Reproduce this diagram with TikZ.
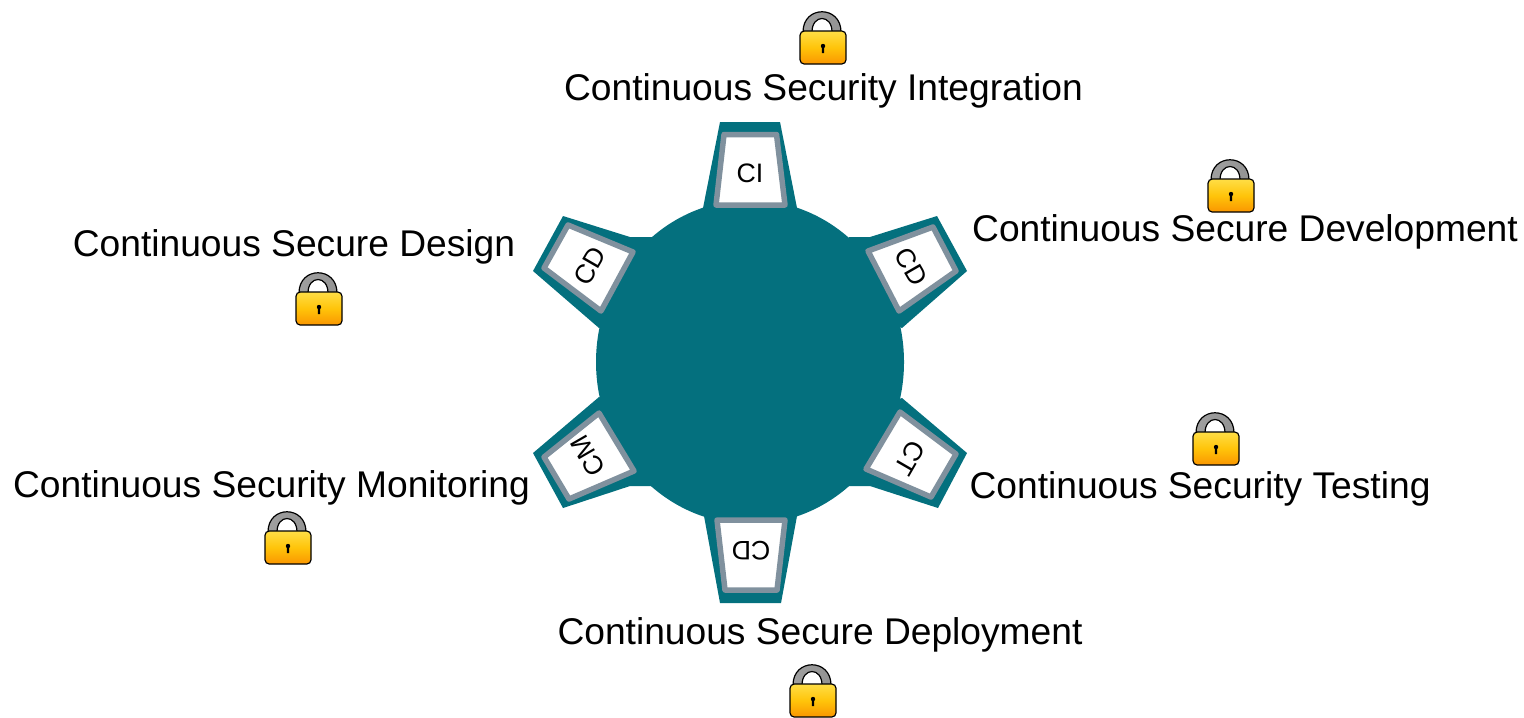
\documentclass[tikz,border=0pt]{standalone}
\usepackage{fontspec}
\setmainfont{Liberation Sans}

\definecolor{gearteal}{RGB}{4,112,126}
\definecolor{facegray}{RGB}{128,145,158}
\definecolor{locktop}{RGB}{255,222,70}
\definecolor{lockmid}{RGB}{255,196,10}
\definecolor{lockbot}{RGB}{250,150,0}

\tikzset{
  stagelabel/.style={anchor=base, inner sep=0pt, font=\fontsize{10.58}{12}\selectfont},
  toothlabel/.style={inner sep=0pt, font=\fontsize{7.6}{9}\selectfont},
  toothface/.style={draw=facegray, fill=white, line width=0.55mm, line join=round},
  padlock/.pic={
    \path[draw=black, line width=0.12mm, even odd rule, left color=gray!75, middle color=gray!20, right color=gray!85]
      (3,32) -- (3,24) .. controls (3,-3) and (41,-3) .. (41,24) -- (41,32) --
      (32,32) -- (32,24) .. controls (32,6) and (12,6) .. (12,24) -- (12,32) -- cycle;
    \path[draw=black, line width=0.12mm, rounded corners=1.2, top color=locktop, bottom color=lockbot, middle color=lockmid]
      (0,23) rectangle (46,56);
    \fill[black] (23,38) circle (2.2);
    \fill[black] (22,38) -- (24,38) -- (24.2,45) -- (21.8,45) -- cycle;
  }
}

\begin{document}
\begin{tikzpicture}[x=0.1mm,y=-0.1mm]

\useasboundingbox (0,0) rectangle (1524,717);

\fill[gearteal] (750,362) ellipse (154 and 162);

% the six teeth
\fill[gearteal] (720,122) -- (780,122) -- (797,208) -- (750,240) -- (703,208) -- cycle;
\fill[gearteal] (937,216) -- (967,271) -- (902,328) -- (840,300) -- (849,237) -- (870,237) -- cycle;
\fill[gearteal] (967,453) -- (938,508) -- (870,486) -- (849,486) -- (840,420) -- (902,398) -- cycle;
\fill[gearteal] (720,603) -- (781,603) -- (797,516) -- (750,480) -- (704,516) -- cycle;
\fill[gearteal] (533,453) -- (563,508) -- (630,486) -- (652,486) -- (660,420) -- (599,397) -- cycle;
\fill[gearteal] (563,216) -- (533,271) -- (599,328) -- (660,300) -- (652,237) -- (630,237) -- cycle;

\draw[toothface] (724,134.5) -- (776.5,134.5) -- (785,205) -- (716,205) -- cycle;
\draw[toothface] (933,227) -- (956,271) -- (899,311) -- (868,251) -- cycle;
\draw[toothface] (900,412) -- (956,454) -- (931,497) -- (866,469) -- cycle;
\draw[toothface] (717,520) -- (785,520) -- (777,590) -- (725,590) -- cycle;
\draw[toothface] (599,413) -- (544,457) -- (569,499) -- (634,471) -- cycle;
\draw[toothface] (568,225) -- (544,268) -- (601,311) -- (633,252) -- cycle;

\foreach \tname\tx\ty\tangle\ttext in {ci/750/173/0/CI, cdev/911/267/-60/CD, ct/910/458/-120/CT, cdep/751/551/180/CD, cm/588/456/120/CM, cdes/590/266/60/CD}
\node[toothlabel, rotate=\tangle] (\tname) at (\tx,\ty) {\ttext};

\node[stagelabel] (integration) at (823.5,100) {Continuous Security Integration};
\node[stagelabel] (development) at (1245,241) {Continuous Secure Development};
\node[stagelabel] (testing) at (1200,498) {Continuous Security Testing};
\node[stagelabel] (deployment) at (820,644) {Continuous Secure Deployment};
\node[stagelabel] (monitoring) at (271.5,497) {Continuous Security Monitoring};
\node[stagelabel] (design) at (294,256) {Continuous Secure Design};

\foreach \lname\lx\ly in {lockci/800/8, lockdev/1208/156, locktest/1193/409, lockdep/790/661, lockmon/265/508, lockdes/296/269}
\pic (\lname) at (\lx,\ly) {padlock};

\end{tikzpicture}
\end{document}
